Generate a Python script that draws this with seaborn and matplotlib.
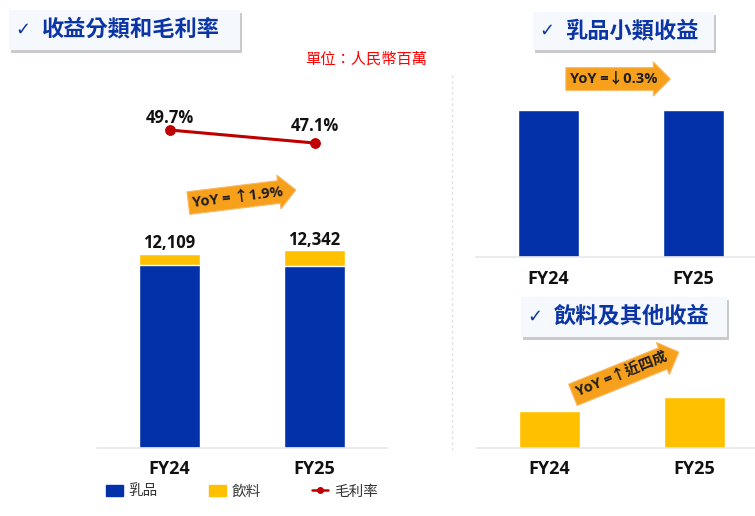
import matplotlib
matplotlib.use("Agg")
import matplotlib.pyplot as plt
from matplotlib import font_manager
from matplotlib.patches import Rectangle, Patch
from matplotlib.lines import Line2D
import seaborn as sns
import pandas as pd

sns.set_style("white")


def pick_latin():
    # first family that actually ships a bold face
    for name in ['Open Sans', 'Noto Sans', 'Lato', 'Liberation Sans']:
        for f in font_manager.fontManager.ttflist:
            w = f.weight if isinstance(f.weight, int) else 700 if 'bold' in str(f.weight) else 400
            if f.name == name and w >= 600:
                return name
    return 'DejaVu Sans'


LATIN = pick_latin()
plt.rcParams['font.family'] = [LATIN, 'Noto Sans CJK TC', 'DejaVu Sans']

# data (RMB millions)
years = ['FY24', 'FY25']
dairy = [11387, 11353]
beverage = [722, 989]
totals = [12109, 12342]
margin = [49.7, 47.1]
yoy_total = 'YoY = ↑1.9%'
yoy_dairy = 'YoY =↓0.3%'
yoy_bev = 'YoY =↑近四成'

BLUE = '#0331a9'
YELLOW = '#ffc000'
RED = '#c00000'
TITLE_BLUE = '#0b35a5'
ORANGE = '#f7a01c'
BASE = '#e8e8e8'

W, H = 755, 516
fig = plt.figure(figsize=(W / 100, H / 100), dpi=100)


def px_axes(left, top, right, bottom):
    return fig.add_axes([left / W, 1 - bottom / H, (right - left) / W, (bottom - top) / H])


def style_ax(ax):
    for s in ['top', 'left', 'right']:
        ax.spines[s].set_visible(False)
    ax.spines['bottom'].set_color(BASE)
    ax.spines['bottom'].set_linewidth(1.2)
    ax.set_yticks([])
    ax.set_xlabel('')
    ax.set_ylabel('')
    ax.tick_params(axis='x', length=0, pad=9)
    for t in ax.get_xticklabels():
        t.set_fontsize(13)
        t.set_fontweight('bold')
        t.set_color('#111111')


def title_box(x0, y0, x1, y1, text, tx):
    fig.add_artist(Rectangle(((x0 + 2) / W, 1 - (y1 + 3) / H), (x1 - x0) / W, (y1 - y0) / H,
                             transform=fig.transFigure, fc='#a8a8a8', ec='none', alpha=0.6))
    fig.add_artist(Rectangle((x0 / W, 1 - y1 / H), (x1 - x0) / W, (y1 - y0) / H,
                             transform=fig.transFigure, fc='#f5f8fd', ec='none'))
    yc = 1 - (y0 + y1) / 2 / H
    fig.text((x0 + 6) / W, yc, '✓', fontsize=13, color=TITLE_BLUE, va='center', ha='left',
             family=['DejaVu Sans'])
    fig.text(tx / W, yc, text, fontsize=16, fontweight='bold', color=TITLE_BLUE,
             va='center', ha='left')


def yoy_arrow(x, y, text, rot):
    fig.text(x / W, 1 - y / H, text, fontsize=10.5, fontweight='bold', color='#1e1e1e',
             ha='center', va='center', rotation=rot, rotation_mode='anchor',
             bbox=dict(boxstyle='rarrow,pad=0.3', fc=ORANGE, ec='#f9b860', lw=0.8))


df = pd.DataFrame({'year': years, 'dairy': dairy, 'beverage': beverage,
                   'total': totals, 'margin': margin})

# left panel: stacked revenue + gross margin
ax = px_axes(97, 60, 387, 448)
sns.barplot(data=df, x='year', y='total', color=YELLOW, width=0.42, saturation=1, ax=ax)
sns.barplot(data=df, x='year', y='dairy', color=BLUE, width=0.42, saturation=1, ax=ax)
ax.set_xlim(-0.5, 1.5)
ax.set_ylim(0, 24200)
ax.bar_label(ax.containers[0], labels=[f'{v:,}' for v in totals], padding=1,
             fontsize=12, fontweight='bold', color='#111111')
style_ax(ax)

ax2 = ax.twinx()
sns.lineplot(data=df, x='year', y='margin', color=RED, marker='o', markersize=7,
             markeredgecolor=RED, linewidth=2.2, ax=ax2)
ax2.set_ylim(-13.9, 63.7)
ax2.set_yticks([])
ax2.set_ylabel('')
for s in ax2.spines.values():
    s.set_visible(False)
for i, m in enumerate(margin):
    ax2.annotate(f'{m}%', (i, m), xytext=(0, [2, 5.5][i]), textcoords='offset points',
                 ha='center', va='bottom', fontsize=12, fontweight='bold', color='#111111')

# right top: dairy
ax3 = px_axes(476, 60, 755, 257)
sns.barplot(data=df, x='year', y='dairy', color=BLUE, width=0.42, saturation=1, ax=ax3)
ax3.set_xlim(-0.5, 1.424)
ax3.set_ylim(0, 15260)
style_ax(ax3)

# right bottom: beverage
ax4 = px_axes(477, 348, 755, 448)
sns.barplot(data=df, x='year', y='beverage', color=YELLOW, width=0.42, saturation=1, ax=ax4)
ax4.set_xlim(-0.5, 1.417)
ax4.set_ylim(0, 1951)
style_ax(ax4)

# separator
fig.add_artist(Line2D([452 / W, 452 / W], [1 - 75 / H, 1 - 450 / H], transform=fig.transFigure,
                      color='#e2e2e2', lw=1, ls=(0, (2, 2))))

title_box(9, 10, 240, 50, '收益分類和毛利率', 42)
title_box(533, 12, 714, 50, '乳品小類收益', 565)
title_box(521, 297, 727, 337, '飲料及其他收益', 554)

fig.text(305 / W, 1 - 60 / H, '單位：人民幣百萬', fontsize=11, color='#ff0000', va='center', ha='left')

yoy_arrow(238, 197, yoy_total, 7)
yoy_arrow(614, 79, yoy_dairy, 0)
yoy_arrow(622, 375, yoy_bev, 22)

handles = [Patch(color=BLUE), Patch(color=YELLOW),
           Line2D([], [], color=RED, marker='o', markersize=4, lw=1.8)]
fig.legend(handles, ['乳品', '飲料', '毛利率'], loc='center', ncol=3,
           bbox_to_anchor=(242 / W, 1 - 492 / H), frameon=False, fontsize=10.5,
           handlelength=1.15, handletextpad=0.4, columnspacing=3.5,
           labelcolor='#333333')

fig.savefig('out.png', dpi=100)
